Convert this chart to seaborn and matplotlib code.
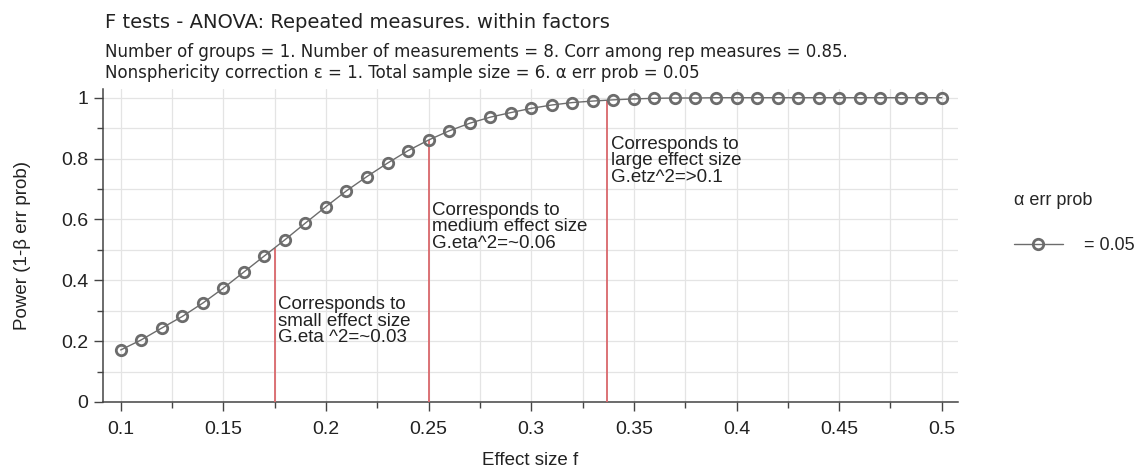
import matplotlib
matplotlib.use("Agg")
import matplotlib.pyplot as plt
from matplotlib.ticker import MultipleLocator
import seaborn as sns
import pandas as pd

# ---- data ----
effect_size = [0.10, 0.11, 0.12, 0.13, 0.14, 0.15, 0.16, 0.17, 0.18, 0.19,
               0.20, 0.21, 0.22, 0.23, 0.24, 0.25, 0.26, 0.27, 0.28, 0.29,
               0.30, 0.31, 0.32, 0.33, 0.34, 0.35, 0.36, 0.37, 0.38, 0.39,
               0.40, 0.41, 0.42, 0.43, 0.44, 0.45, 0.46, 0.47, 0.48, 0.49, 0.50]
power = [0.171, 0.204, 0.243, 0.281, 0.325, 0.374, 0.427, 0.480, 0.533, 0.588,
         0.642, 0.694, 0.741, 0.785, 0.826, 0.861, 0.891, 0.916, 0.936, 0.951,
         0.965, 0.976, 0.984, 0.989, 0.993, 0.996, 0.998, 0.999, 0.999, 1.000,
         1.000, 1.000, 1.000, 1.000, 1.000, 1.000, 1.000, 1.000, 1.000, 1.000, 1.000]
alpha_label = "= 0.05"

marker_effects = [0.175, 0.25, 0.337]
marker_power = [0.507, 0.861, 0.992]
marker_texts = ["Corresponds to\nsmall effect size\nG.eta ^2=~0.03",
                "Corresponds to\nmedium effect size\nG.eta^2=~0.06",
                "Corresponds to\nlarge effect size\nG.etz^2=>0.1"]

x_ticks = [0.1, 0.15, 0.2, 0.25, 0.3, 0.35, 0.4, 0.45, 0.5]
x_tick_labels = ["0.1", "0.15", "0.2", "0.25", "0.3", "0.35", "0.4", "0.45", "0.5"]
y_ticks = [0, 0.2, 0.4, 0.6, 0.8, 1.0]
y_tick_labels = ["0", "0.2", "0.4", "0.6", "0.8", "1"]

title = "F tests - ANOVA: Repeated measures. within factors"
subtitle1 = "Number of groups = 1. Number of measurements = 8. Corr among rep measures = 0.85."
subtitle2 = "Nonsphericity correction \u03b5 = 1. Total sample size = 6. \u03b1 err prob = 0.05"

df = pd.DataFrame({"effect": effect_size, "power": power,
                   "alpha": [alpha_label] * len(effect_size)})

# ---- style ----
sns.set_style("white")
plt.rcParams["font.family"] = ["Liberation Sans", "DejaVu Sans"]

W, H = 1139, 471
fig = plt.figure(figsize=(W / 100, H / 100), dpi=100)
ax = fig.add_axes([103 / W, 69 / H, 855 / W, 313 / H])

gray = "#6c6c6c"
sns.lineplot(data=df, x="effect", y="power", ax=ax, color=gray, linewidth=1.0,
             marker="o", markersize=7.5, markerfacecolor="none",
             markeredgecolor=gray, markeredgewidth=2.0, zorder=4,
             legend=False)

ax.vlines(marker_effects, 0, marker_power, color="#d9676b", linewidth=1.3, zorder=3)

text_tops = [0.347, 0.657, 0.874]
for xv, yv, txt in zip(marker_effects, text_tops, marker_texts):
    ax.annotate(txt, xy=(xv, yv), xytext=(2.5, 0), textcoords="offset points",
                ha="left", va="top", fontsize=13.5, color="#222222",
                linespacing=0.95, zorder=5)

ax.set_xlim(0.0914, 0.5079)
ax.set_ylim(0, 1.0286)
ax.set_xticks(x_ticks)
ax.set_xticklabels(x_tick_labels)
ax.set_yticks(y_ticks)
ax.set_yticklabels(y_tick_labels)
ax.xaxis.set_minor_locator(MultipleLocator(0.025))
ax.yaxis.set_minor_locator(MultipleLocator(0.1))

ax.grid(which="both", color="#e4e4e4", linewidth=0.9)
ax.set_axisbelow(True)

for s in ["top", "right"]:
    ax.spines[s].set_visible(False)
for s in ["left", "bottom"]:
    ax.spines[s].set_color("#444444")
    ax.spines[s].set_linewidth(1.1)

ax.tick_params(which="major", direction="out", length=6.5, width=1.0, color="#444444",
               labelsize=14, labelcolor="#222222", left=True, bottom=True)
ax.tick_params(axis="x", which="major", pad=7)
ax.tick_params(axis="y", which="major", pad=4)
ax.tick_params(which="minor", direction="out", length=4, width=1.0, color="#444444",
               left=True, bottom=True)

ax.set_xlabel("Effect size f", fontsize=13.5, color="#222222")
ax.set_ylabel("Power (1-\u03b2 err prob)", fontsize=13.5, color="#222222")
ax.xaxis.set_label_coords(0.5, -0.186)
ax.xaxis.label.set_va("center")
ax.yaxis.set_label_coords(-0.0947, 0.5)
ax.yaxis.label.set_va("center")

fig.text(105 / W, 1 - 23 / H, title, fontsize=14, family="DejaVu Sans",
         color="#222222", ha="left", va="center")
fig.text(105 / W, 1 - 52 / H, subtitle1, fontsize=12, family="DejaVu Sans",
         color="#222222", ha="left", va="center")
fig.text(105 / W, 1 - 73 / H, subtitle2, fontsize=12, family="DejaVu Sans",
         color="#222222", ha="left", va="center")

line = ax.lines[0]
leg = ax.legend(handles=[line], labels=[alpha_label], title="\u03b1 err prob",
                loc="upper left", bbox_to_anchor=(1014 / W, 1 - 192 / H),
                bbox_transform=fig.transFigure, frameon=False, borderpad=0,
                borderaxespad=0, handlelength=2.7, handletextpad=1.2,
                fontsize=13, title_fontsize=13, labelspacing=1.55)
leg._legend_box.align = "left"

fig.savefig("out.png", dpi=100)
